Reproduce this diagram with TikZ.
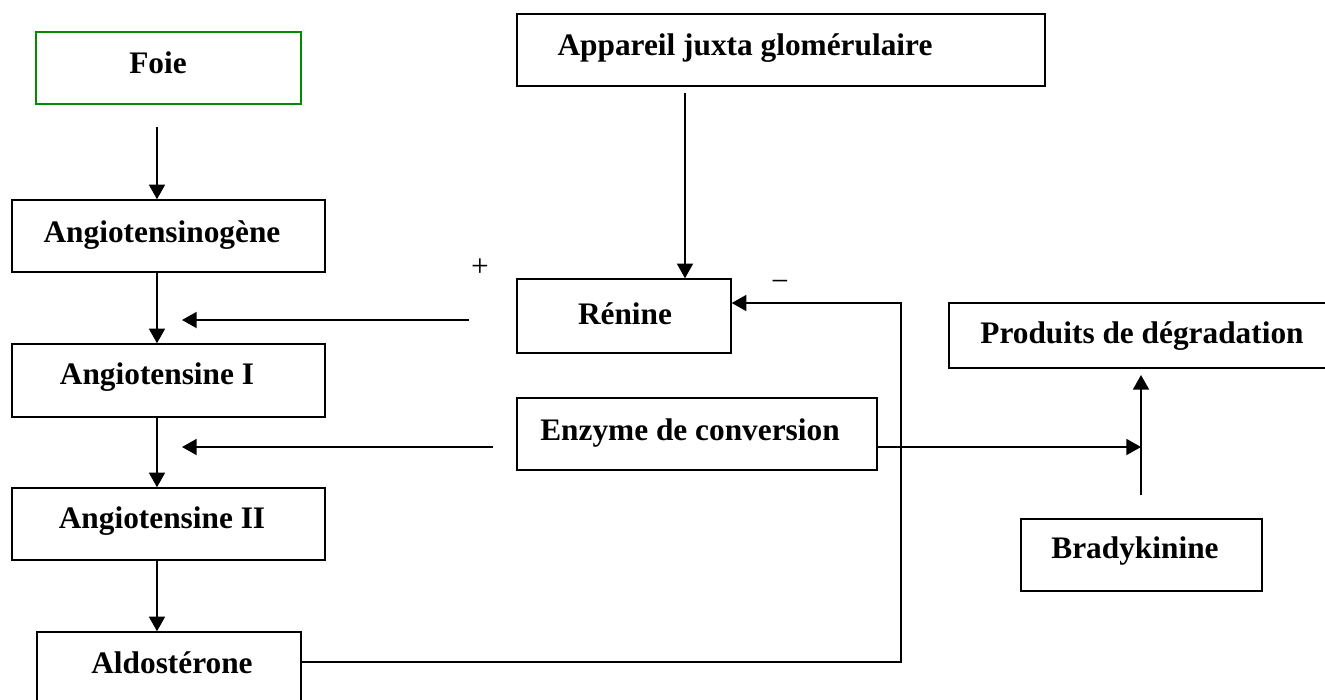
\documentclass[tikz,border=0pt]{standalone}
\usepackage{fontspec}
\setmainfont{Liberation Serif}
\usetikzlibrary{arrows.meta,fit}
\definecolor{foiegreen}{RGB}{0,140,0}
\tikzset{
  box/.style={draw, line width=1.1pt, inner sep=0pt},
  lbl/.style={anchor=base, inner sep=0pt, font=\fontsize{23.5}{28}\selectfont\bfseries},
  sgn/.style={anchor=base, inner sep=0pt, font=\fontsize{23.5}{28}\selectfont},
  arr/.style={line width=1.4pt, -{Triangle[length=11pt,width=12pt]}},
  ln/.style={line width=1.4pt}
}
\begin{document}
\begin{tikzpicture}[x=0.75pt,y=-0.75pt]
\useasboundingbox (0,0) rectangle (1325,700);
% boxes
\node[box, draw=foiegreen, fit={(36,32) (301,104)}] (foie) {};
\node[box, fit={(12,200) (325,272)}] (angen) {};
\node[box, fit={(12,344) (325,417)}] (ang1) {};
\node[box, fit={(12,488) (325,560)}] (ang2) {};
\node[box, fit={(37,632) (301,710)}] (aldo) {};
\node[box, fit={(517,14) (1045,86)}] (app) {};
\node[box, fit={(517,279) (731,353)}] (ren) {};
\node[box, fit={(517,398) (877,470)}] (enz) {};
\node[box, fit={(949,303) (1335,368)}] (prod) {};
\node[box, fit={(1021,519) (1262,591)}] (brad) {};
% texts
\node[lbl] (tfoie) at (158,73) {Foie};
\node[lbl] (tangen) at (162,242) {Angiotensinogène};
\node[lbl] (tang1) at (157,384) {Angiotensine I};
\node[lbl] (tang2) at (162,528) {Angiotensine II};
\node[lbl] (taldo) at (172,673) {Aldostérone};
\node[lbl] (tapp) at (745,55) {Appareil juxta glomérulaire};
\node[lbl] (tren) at (625,324) {Rénine};
\node[lbl] (tenz) at (690,440) {Enzyme de conversion};
\node[lbl] (tprod) at (1142,343) {Produits de dégradation};
\node[lbl] (tbrad) at (1135,558) {Bradykinine};
\node[sgn] (plus) at (480,276) {+};
\node[sgn] (minus) at (780,291) {−};
% coordinates
\coordinate (c1) at (157,0);
\coordinate (f1) at (157,127);
\coordinate (p1s) at (469,320);
\coordinate (p1e) at (182,320);
\coordinate (p2s) at (493,447);
\coordinate (p2e) at (182,447);
\coordinate (a1) at (685,93);
\coordinate (fb) at (901,662);
\coordinate (fr) at (901,303);
\coordinate (e1) at (1141,447);
\coordinate (b1) at (1141,495);
\coordinate (b2) at (1141,375);
% connectors
\draw[arr] (f1) -- (angen.north -| c1);
\draw[arr] (angen.south -| c1) -- (ang1.north -| c1);
\draw[arr] (ang1.south -| c1) -- (ang2.north -| c1);
\draw[arr] (ang2.south -| c1) -- (aldo.north -| c1);
\draw[arr] (p1s) -- (p1e);
\draw[arr] (p2s) -- (p2e);
\draw[arr] (a1) -- (ren.north -| a1);
\draw[arr] (aldo.east |- fb) -- (fb) -- (fr) -- (ren.east |- fr);
\draw[arr] (enz.east |- e1) -- (e1);
\draw[arr] (b1) -- (b2);
\end{tikzpicture}
\end{document}
